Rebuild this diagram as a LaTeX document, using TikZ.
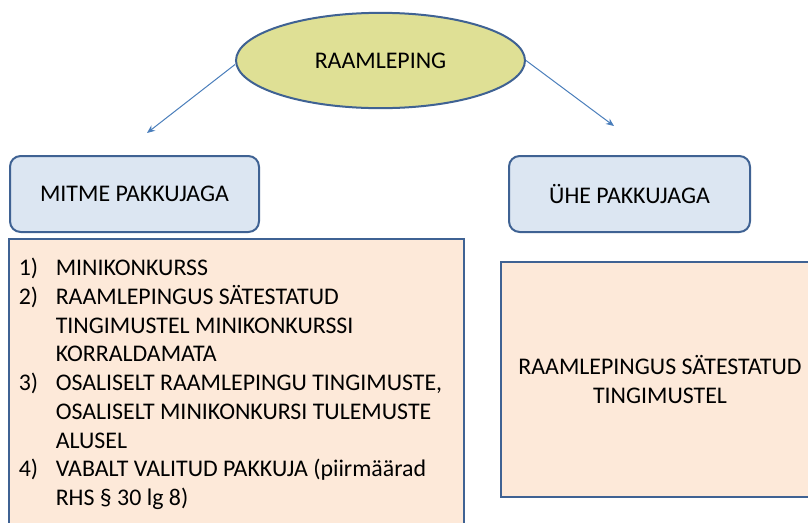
\documentclass[tikz,border=0pt]{standalone}
\usepackage{fontspec}
\setmainfont{Carlito}
\usetikzlibrary{arrows.meta,shapes.geometric}
\definecolor{edgeblue}{HTML}{3F6293}
\definecolor{ellfill}{HTML}{DFE095}
\definecolor{boxblue}{HTML}{DCE6F2}
\definecolor{peach}{HTML}{FDE9D9}
\definecolor{arrowblue}{HTML}{4A7EBB}
\tikzset{
  txt/.style={font=\fontsize{17.9}{21.56}\selectfont, text=black},
  topell/.style={ellipse, draw=edgeblue, line width=1.5pt, fill=ellfill, inner sep=0pt,
    minimum width=216.75pt, minimum height=71.5pt, txt},
  headbox/.style={rectangle, rounded corners=8pt, draw=edgeblue, line width=1.5pt, fill=boxblue,
    inner sep=0pt, minimum height=57pt, txt},
  bodybox/.style={rectangle, draw=edgeblue, line width=1.5pt, fill=peach, inner sep=0pt, txt},
  conn/.style={draw=arrowblue, line width=0.75pt, -{Stealth[length=6pt,width=5pt]}},
}
\begin{document}
\begin{tikzpicture}[x=0.75pt,y=-0.75pt]
\useasboundingbox (0,0) rectangle (808,522);
\node[topell] (top) at (380.5,60.5) {RAAMLEPING};
\node[headbox, minimum width=186.75pt] (multi) at (134.5,194) {MITME PAKKUJAGA};
\node[headbox, minimum width=180.75pt] (single) at (629.5,194) {ÜHE PAKKUJAGA};
\node[bodybox, minimum width=340.9pt, minimum height=229.5pt] (multibody) at (236.75,392) {};
\node[bodybox, minimum width=238.5pt, minimum height=176.25pt, align=center] (singlebody) at (660,379.5)
  {RAAMLEPINGUS SÄTESTATUD\\TINGIMUSTEL};
\node[txt, anchor=base west, inner sep=0pt] (list) at (18.5,275.7) {%
  \begin{tabular}[t]{@{}l@{}l@{}}
  \makebox[27.75pt][l]{1)} & MINIKONKURSS\\
  \makebox[27.75pt][l]{2)} & RAAMLEPINGUS SÄTESTATUD\\
   & TINGIMUSTEL MINIKONKURSSI\\
   & KORRALDAMATA\\
  \makebox[27.75pt][l]{3)} & OSALISELT RAAMLEPINGU TINGIMUSTE,\\
   & OSALISELT MINIKONKURSI TULEMUSTE\\
   & ALUSEL\\
  \makebox[27.75pt][l]{4)} & VABALT VALITUD PAKKUJA (piirmäärad\\
   & RHS § 30 lg 8)
  \end{tabular}};
\coordinate (leftend) at (147,133);
\coordinate (rightend) at (614,126);
\draw[conn] ([yshift=-3pt]top.west) -- (leftend);
\draw[conn] (top.east) -- (rightend);
\end{tikzpicture}
\end{document}
